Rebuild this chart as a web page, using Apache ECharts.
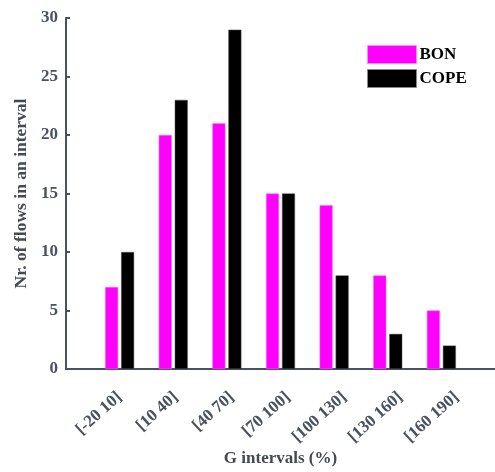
<!DOCTYPE html>
<html>
<head>
<meta charset="utf-8">
<script src="https://cdn.jsdelivr.net/npm/echarts@6/dist/echarts.min.js"></script>
<style>html,body{margin:0;padding:0;background:#fff;overflow:hidden}#c{width:495px;height:472px}</style>
</head>
<body>
<div id="c"></div>
<script>
const categories = ['[-20 10]', '[10 40]', '[40 70]', '[70 100]', '[100 130]', '[130 160]', '[160 190]'];
const bonValues = [7, 20, 21, 15, 14, 8, 5];
const copeValues = [10, 23, 29, 15, 8, 3, 2];
const yTicks = [0, 5, 10, 15, 20, 25, 30];

const axisColor = '#4a5260';
const titleColor = '#454a52';
const font = '"Liberation Serif", "DejaVu Serif", serif';
const cats = [''].concat(categories, ['']);
const pad = a => ['-'].concat(a, ['-']);

const chart = echarts.init(document.getElementById('c'));
chart.setOption({
  animation: false,
  grid: [
    { left: 66, right: 0, top: 18, bottom: 99, containLabel: false },
    { left: 119.5, right: 38.5, top: 18, bottom: 99, containLabel: false }
  ],
  legend: {
    left: 362, top: 40, orient: 'vertical',
    itemWidth: 49, itemHeight: 18, itemGap: 5,
    textStyle: { fontFamily: font, fontSize: 17, fontWeight: 'bold', color: '#000', padding: [0, 0, 0, -2] },
    data: [
      { name: 'BON', icon: 'rect', itemStyle: { color: '#ff00ff', borderColor: '#ff88ff', borderWidth: 1 } },
      { name: 'COPE', icon: 'rect', itemStyle: { color: '#000000', borderColor: '#888', borderWidth: 1 } }
    ]
  },
  xAxis: [
    {
      type: 'category', data: cats, boundaryGap: false, gridIndex: 0,
      name: 'G intervals (%)', nameLocation: 'middle', nameGap: 81,
      nameTextStyle: { fontFamily: font, fontSize: 17, fontWeight: 'bold', color: titleColor, verticalAlign: 'top' },
      axisLine: { lineStyle: { color: axisColor, width: 2 } },
      axisTick: { show: false },
      axisLabel: { show: false },
      splitLine: { show: false }
    },
    {
      type: 'category', data: categories, boundaryGap: false, gridIndex: 1,
      axisLine: { show: false },
      axisTick: { show: false },
      axisLabel: { interval: 0, rotate: 42, fontFamily: font, fontSize: 17, fontWeight: 'bold', color: axisColor, margin: 22 },
      splitLine: { show: false }
    }
  ],
  yAxis: [
    {
      type: 'value', min: yTicks[0], max: yTicks[yTicks.length - 1], interval: 5, gridIndex: 0,
      name: 'Nr. of flows in an interval', nameLocation: 'middle', nameGap: 32,
      nameTextStyle: { fontFamily: font, fontSize: 17.5, fontWeight: 'bold', color: titleColor },
      axisLine: { show: true, lineStyle: { color: axisColor, width: 2 } },
      axisTick: { show: true, inside: true, length: 4, lineStyle: { color: axisColor, width: 2 } },
      axisLabel: { fontFamily: font, fontSize: 17, fontWeight: 'bold', color: axisColor, margin: 8 },
      splitLine: { show: false }
    },
    { type: 'value', gridIndex: 1, show: false, min: 0, max: 30 }
  ],
  series: [
    { name: 'BON', type: 'bar', xAxisIndex: 0, yAxisIndex: 0, data: pad(bonValues), barWidth: 13, barGap: '23%',
      itemStyle: { color: '#ff00ff', borderColor: '#ff66ff', borderWidth: 0.5 } },
    { name: 'COPE', type: 'bar', xAxisIndex: 0, yAxisIndex: 0, data: pad(copeValues), barWidth: 13,
      itemStyle: { color: '#000000', borderColor: '#555', borderWidth: 0.5 } }
  ]
});
</script>
</body>
</html>
